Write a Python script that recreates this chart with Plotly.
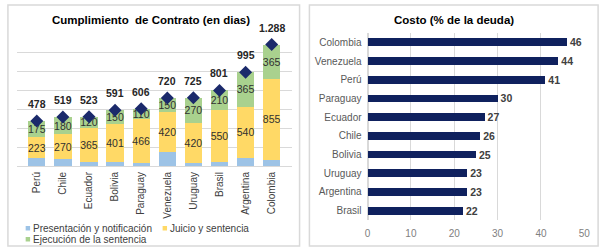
import plotly.graph_objects as go

# ---- Left chart data ----
countries_left = ["Perú", "Chile", "Ecuador", "Bolivia", "Paraguay", "Venezuela",
                  "Uruguay", "Brasil", "Argentina", "Colombia"]
presentacion = [80, 69, 38, 40, 30, 150, 35, 41, 90, 68]
juicio = [223, 270, 365, 401, 466, 420, 420, 550, 540, 855]
ejecucion = [175, 180, 120, 150, 110, 150, 270, 210, 365, 365]
totales = [478, 519, 523, 591, 606, 720, 725, 801, 995, 1288]
total_labels = ["478", "519", "523", "591", "606", "720", "725", "801", "995", "1.288"]
series_names = ["Presentación y notificación", "Juicio y sentencia", "Ejecución de la sentencia"]
series_colors = ["#9DC3E6", "#FFD966", "#A9D18E"]

# ---- Right chart data ----
countries_right = ["Colombia", "Venezuela", "Perú", "Paraguay", "Ecuador", "Chile",
                   "Bolivia", "Uruguay", "Argentina", "Brasil"]
costo = [46, 44, 41, 30, 27, 26, 25, 23, 23, 22]

W, H = 611, 250
FONT = "Arial, Liberation Sans, sans-serif"


def px_x(p):
    return p / W


def px_y(p):
    return 1 - p / H


fig = go.Figure()

seg_font = dict(family=FONT, size=10.5, color="#303030")

fig.add_trace(go.Bar(
    x=countries_left, y=presentacion, name=series_names[0],
    marker=dict(color=series_colors[0], line=dict(width=0)), width=0.66,
    xaxis="x", yaxis="y", showlegend=False, hoverinfo="skip"))
fig.add_trace(go.Bar(
    x=countries_left, y=juicio, name=series_names[1],
    marker=dict(color=series_colors[1], line=dict(width=0)), width=0.66,
    text=[str(v) for v in juicio], textposition="inside", insidetextanchor="middle",
    textangle=0, constraintext="none", insidetextfont=seg_font,
    xaxis="x", yaxis="y", showlegend=False, hoverinfo="skip"))
fig.add_trace(go.Bar(
    x=countries_left, y=ejecucion, name=series_names[2],
    marker=dict(color=series_colors[2], line=dict(width=0)), width=0.66,
    text=[str(v) for v in ejecucion], textposition="inside", insidetextanchor="middle",
    textangle=0, constraintext="none", insidetextfont=seg_font,
    xaxis="x", yaxis="y", showlegend=False, hoverinfo="skip"))
fig.add_trace(go.Scatter(
    x=countries_left, y=totales, mode="markers",
    marker=dict(symbol="diamond", size=10, color="#1B2A6B"),
    showlegend=False, xaxis="x", yaxis="y", hoverinfo="skip", cliponaxis=False))

annotations = []
for c, t, lab in zip(countries_left, totales, total_labels):
    annotations.append(dict(x=c, y=t, xref="x", yref="y", text=f"<b>{lab}</b>",
                            showarrow=False, yshift=17,
                            font=dict(family=FONT, size=10.5, color="#262626")))

# ---- Right chart ----
fig.add_trace(go.Bar(
    x=costo, y=countries_right, orientation="h",
    marker=dict(color="#0F215E", line=dict(width=0)), width=0.42,
    text=[str(v) for v in costo], textposition="outside", cliponaxis=False,
    texttemplate="<b>%{text}</b>", constraintext="none",
    outsidetextfont=dict(family=FONT, size=10.5, color="#404040"),
    showlegend=False, xaxis="x2", yaxis="y2", hoverinfo="skip"))

# titles
annotations.append(dict(x=px_x(150), y=px_y(20), xref="paper", yref="paper",
                        text="<b>Cumplimiento  de Contrato (en dias)</b>", showarrow=False,
                        font=dict(family=FONT, size=11.5, color="#000000"),
                        xanchor="center", yanchor="middle"))
annotations.append(dict(x=px_x(458), y=px_y(20), xref="paper", yref="paper",
                        text="<b>Costo (% de la deuda)</b>", showarrow=False,
                        font=dict(family=FONT, size=11.5, color="#000000"),
                        xanchor="center", yanchor="middle"))

shapes = [
    dict(type="rect", xref="paper", yref="paper", x0=px_x(5), x1=px_x(301),
         y0=px_y(246), y1=px_y(5), line=dict(color="#D9D9D9", width=1.5), layer="below"),
    dict(type="rect", xref="paper", yref="paper", x0=px_x(311), x1=px_x(604),
         y0=px_y(246), y1=px_y(5), line=dict(color="#D9D9D9", width=1.5), layer="below"),
]

# manual legend (small squares + text), layout positions in pixels
legend_pos = [(23, 228), (162, 228), (23, 239)]
for name, color, (lx, ly) in zip(series_names, series_colors, legend_pos):
    shapes.append(dict(type="rect", xref="paper", yref="paper",
                       x0=px_x(lx), x1=px_x(lx + 4.5), y0=px_y(ly + 2.5), y1=px_y(ly - 2),
                       fillcolor=color, line=dict(width=0)))
    annotations.append(dict(x=px_x(lx + 5), y=px_y(ly), xref="paper", yref="paper",
                            text=name, showarrow=False, xanchor="left", yanchor="middle",
                            font=dict(family=FONT, size=10, color="#404040")))

fig.update_layout(
    width=W, height=H,
    margin=dict(l=0, r=0, t=0, b=0),
    paper_bgcolor="white", plot_bgcolor="white",
    barmode="stack",
    font=dict(family=FONT),
    annotations=annotations, shapes=shapes,
    showlegend=False,
    xaxis=dict(domain=[px_x(14), px_x(293)], anchor="y", tickangle=-90,
               tickfont=dict(family=FONT, size=10, color="#404040"),
               showgrid=False, showline=False, ticks="", ticklabelstandoff=3),
    yaxis=dict(domain=[px_y(166), px_y(34)], anchor="x", range=[0, 1400], dtick=200,
               showticklabels=False, gridcolor="#D9D9D9", gridwidth=1,
               zeroline=True, zerolinecolor="#D9D9D9", zerolinewidth=1, showline=False),
    xaxis2=dict(domain=[px_x(370), px_x(590)], anchor="y2", range=[0, 50], dtick=10,
                gridcolor="#D9D9D9", zeroline=True, zerolinecolor="#D9D9D9",
                tickfont=dict(family=FONT, size=10, color="#808080"), showline=False,
                ticks="", ticklabelstandoff=6),
    yaxis2=dict(domain=[px_y(220), px_y(33)], anchor="x2", autorange="reversed",
                type="category", categoryorder="array", categoryarray=countries_right,
                tickfont=dict(family=FONT, size=10, color="#595959"),
                showgrid=False, ticks="", ticklabelstandoff=5),
)

fig.write_html("out.html", config={"displayModeBar": False},
               post_script="document.body.style.margin='0';")
